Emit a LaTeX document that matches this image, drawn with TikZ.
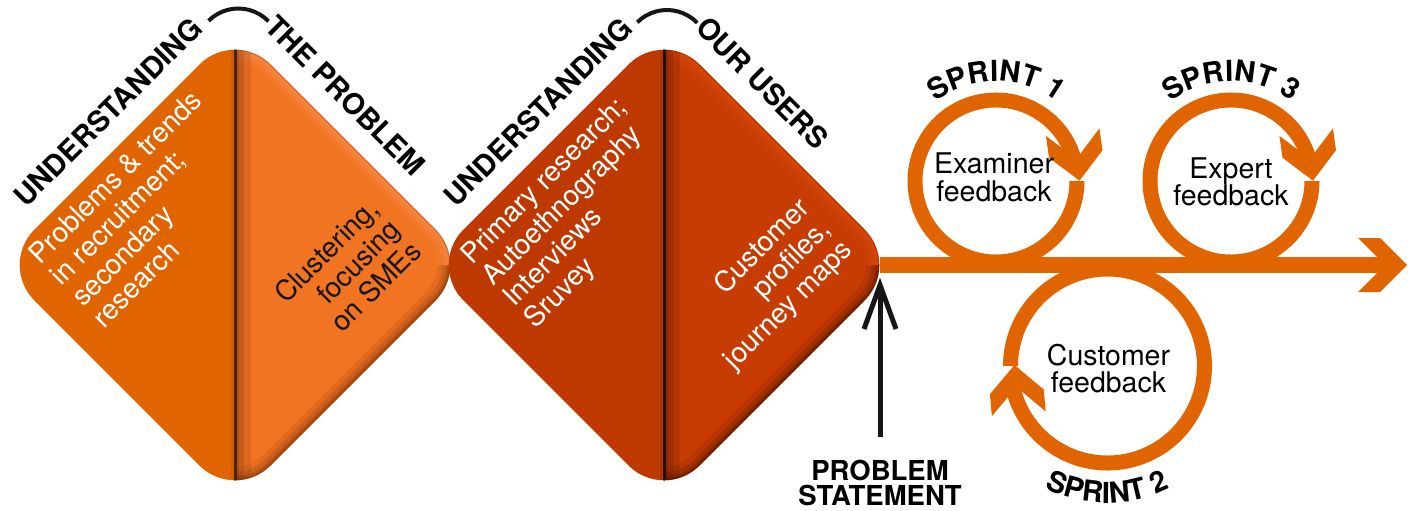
\documentclass[tikz,border=0pt]{standalone}
\usepackage{graphicx}
\usepackage{fontspec}
\setmainfont{TeX Gyre Heros}
\definecolor{tl}{RGB}{224,101,0}
\definecolor{dOneL}{RGB}{224,100,0}
\definecolor{dOneR}{RGB}{240,116,34}
\definecolor{dOneHi}{RGB}{255,155,100}
\definecolor{dOneSh}{RGB}{95,35,5}
\definecolor{dOneLine}{RGB}{70,35,20}
\definecolor{dTwoL}{RGB}{190,57,0}
\definecolor{dTwoR}{RGB}{198,60,2}
\definecolor{dTwoHi}{RGB}{240,82,22}
\definecolor{dTwoSh}{RGB}{55,10,0}
\definecolor{dTwoLine}{RGB}{40,10,0}
\definecolor{ink}{RGB}{22,22,22}

\newcommand\dpath[2]{(#1-236,#2) -- (#1,#2+236) -- (#1+236,#2) -- (#1,#2-236) -- cycle}
\newcommand\spfont{\fontsize{14.5}{17}\selectfont\bfseries}
\newcommand\rl[2]{\rotatebox{#1}{\smash{\rlap{#2}}}}
\newcommand\rr[2]{\rotatebox{#1}{\smash{\llap{#2}}}}
\newcommand\rc[2]{\rotatebox{#1}{\smash{\makebox[0pt][c]{#2}}}}

\newcommand\mydiamond[7]{%
\begin{scope}
 \clip[rounded corners=25pt] \dpath{#1}{#2};
 \fill[#3] (#1-250,#2-250) rectangle (#1,#2+250);
 \fill[#4] (#1,#2-250) rectangle (#1+250,#2+250);
 \begin{scope}
  \clip (#1,#2) rectangle (#1+250,#2+250);
  \draw[#5, line width=13pt, opacity=0.12, rounded corners=25pt] \dpath{#1}{#2};
  \draw[#5, line width=8pt, opacity=0.16, rounded corners=25pt] \dpath{#1}{#2};
  \draw[#5, line width=4pt, opacity=0.2, rounded corners=25pt] \dpath{#1}{#2};
  \draw[#6, line width=1pt, opacity=0.25, rounded corners=25pt] \dpath{#1}{#2};
 \end{scope}
 \begin{scope}
  \clip (#1,#2-250) rectangle (#1+250,#2);
  \draw[#6, line width=13pt, opacity=0.1, rounded corners=25pt] \dpath{#1}{#2};
  \draw[#6, line width=8pt, opacity=0.15, rounded corners=25pt] \dpath{#1}{#2};
  \draw[#6, line width=4pt, opacity=0.22, rounded corners=25pt] \dpath{#1}{#2};
  \draw[#6, line width=1.5pt, opacity=0.3, rounded corners=25pt] \dpath{#1}{#2};
 \end{scope}
 \fill[#6, opacity=0.14] (#1,#2-250) rectangle (#1+16,#2+250);
 \fill[#6, opacity=0.16] (#1,#2-250) rectangle (#1+9,#2+250);
 \fill[#6, opacity=0.2] (#1,#2-250) rectangle (#1+4,#2+250);
 \fill[#6, opacity=0.12] (#1-4,#2-250) rectangle (#1,#2+250);
 \draw[#7, line width=1.5pt] (#1,#2-250) -- (#1,#2+250);
\end{scope}}

\tikzset{
 dtext/.style={inner sep=0pt, font=\fontsize{14}{15}\selectfont},
 lab/.style={inner sep=0pt, text=black, font=\fontsize{14.5}{17}\selectfont\bfseries},
 ctext/.style={inner sep=0pt, text=black, font=\fontsize{14.25}{15}\selectfont},
 letter/.style={inner sep=0pt, text=black, font=\spfont},
 chev/.pic={\fill[tl] (0,0) -- (-27,27) -- (-49,27) -- (-22,0) -- (-49,-27) -- (-27,-27) -- cycle;},
 ring/.style={tl, line width=7.5pt},
 bracket/.style={ink, line width=2pt}
}

\begin{document}
\begin{tikzpicture}[x=0.5pt,y=0.5pt]
\useasboundingbox (0,0) rectangle (1415,510);

% diamonds
\mydiamond{235}{245}{dOneL}{dOneR}{dOneHi}{dOneSh}{dOneLine}
\mydiamond{664}{245}{dTwoL}{dTwoR}{dTwoHi}{dTwoSh}{dTwoLine}

% texts in diamonds
\begin{scope}[shift={(40.7,244.5)}, rotate=45]
 \node[dtext, text=white] (bA1) at (0,0) {\rl{45}{Problems \& trends}};
 \node[dtext, text=white] (bA2) at (0,-30) {\rl{45}{in recruitment;}};
 \node[dtext, text=white] (bA3) at (0,-60) {\rl{45}{secondary}};
 \node[dtext, text=white] (bA4) at (0,-90) {\rl{45}{research}};
\end{scope}
\begin{scope}[shift={(380.5,299.3)}, rotate=45]
 \node[dtext, text=ink] (bB1) at (0,0) {\rr{45}{Clustering,}};
 \node[dtext, text=ink] (bB2) at (0,-30) {\rr{45}{focusing}};
 \node[dtext, text=ink] (bB3) at (0,-60) {\rr{45}{on SMEs}};
\end{scope}
\begin{scope}[shift={(472,244.5)}, rotate=45]
 \node[dtext, text=white] (bC1) at (0,0) {\rl{45}{Primary research;}};
 \node[dtext, text=white] (bC2) at (0,-30) {\rl{45}{Autoethnography}};
 \node[dtext, text=white] (bC3) at (0,-60) {\rl{45}{Interviews}};
 \node[dtext, text=white] (bC4) at (0,-90) {\rl{45}{Sruvey}};
\end{scope}
\begin{scope}[shift={(811,300.5)}, rotate=45]
 \node[dtext, text=white] (bD1) at (0,0) {\rr{45}{Customer}};
 \node[dtext, text=white] (bD2) at (0,-30) {\rr{45}{profiles,}};
 \node[dtext, text=white] (bD3) at (0,-60) {\rr{45}{journey maps}};
\end{scope}

% labels around diamonds
\node[lab] (u1) at (115.3,390.5) {\rc{45}{UNDERSTANDING}};
\node[lab] (p1) at (263.3,481.9) {\rl{-45}{THE PROBLEM}};
\node[lab] (u2) at (545.3,390.5) {\rc{45}{UNDERSTANDING}};
\node[lab] (p2) at (694,480.5) {\rl{-45}{OUR USERS}};
\coordinate (arcA) at (238.3,459.5);
\coordinate (arcB) at (667,458);
\draw[bracket] (arcA) ++(135:42) arc[start angle=135, end angle=44, radius=42];
\draw[bracket] (arcB) ++(135:42) arc[start angle=135, end angle=44, radius=42];

% timeline
\coordinate (tlstart) at (880,245);
\coordinate (tlend) at (1385,245);
\coordinate (tltip) at (1407,245);
\draw[tl, line width=8pt] (tlstart) -- (tlend);
\pic at (tltip) {chev};

% sprint rings
\coordinate (s1) at (996,329);
\coordinate (s3) at (1231,329);
\coordinate (s2) at (1107.5,144);
\draw[ring] (s1) ++(12:81) arc[start angle=12, end angle=360, radius=81];
\draw[ring] (s3) ++(12:81) arc[start angle=12, end angle=360, radius=81];
\draw[ring] (s2) ++(192:97) arc[start angle=192, end angle=540, radius=97];
\pic[rotate=-82] at (1079.5,329.3) {chev};
\pic[rotate=-82] at (1313,329.3) {chev};
\pic[rotate=95] at (1014.5,145) {chev};

% sprint labels, letter by letter
\foreach \ch/\s [count=\i] in {S/-55.59,P/-36.25,R/-16.11,I/-1.61,N/12.89,T/32.22,1/57.20}{
  \pgfmathsetmacro\th{90-\s*0.572958}
  \pgfmathsetmacro\rt{\th-90}
  \node[letter] (sa\i) at ([shift={(\th:110.4)}]s1) {\rotatebox[origin=c]{\rt}{\ch}};
}
\foreach \ch/\s [count=\i] in {S/-55.59,P/-36.25,R/-16.11,I/-1.61,N/12.89,T/32.22,3/57.20}{
  \pgfmathsetmacro\th{90-\s*0.572958}
  \pgfmathsetmacro\rt{\th-90}
  \node[letter] (sc\i) at ([shift={(\th:110.4)}]s3) {\rotatebox[origin=c]{\rt}{\ch}};
}
\foreach \ch/\s [count=\i] in {S/-55.59,P/-36.25,R/-16.11,I/-1.61,N/12.89,T/32.22,2/57.20}{
  \pgfmathsetmacro\th{270+\s*0.418217}
  \pgfmathsetmacro\rt{\s*0.418217}
  \node[letter] (sb\i) at ([shift={(\th:126.6)}]s2) {\rotatebox[origin=c]{\rt}{\ch}};
}

% circle texts
\node[ctext, anchor=base] (e1) at (994,336) {Examiner};
\node[ctext, anchor=base] (e2) at (994,308.5) {feedback};
\node[ctext, anchor=base] (x1) at (1231,332) {Expert};
\node[ctext, anchor=base] (x2) at (1231,304.3) {feedback};
\node[ctext, anchor=base] (c1) at (1108.5,144.3) {Customer};
\node[ctext, anchor=base] (c2) at (1108.5,117.7) {feedback};

% problem statement
\node[inner sep=0pt, align=center, anchor=north, text=black,
      font=\fontsize{13.75}{12.5}\selectfont\bfseries] (ps) at (880,50.5) {PROBLEM\\STATEMENT};
\coordinate (pst) at (880,225);
\draw[ink, line width=2.5pt] ([yshift=11.25pt]ps.north) -- (pst);
\draw[ink, line width=2.5pt, line join=miter] (pst) ++(-16,-44) -- (pst) -- ++(16,-44);
\end{tikzpicture}
\end{document}
